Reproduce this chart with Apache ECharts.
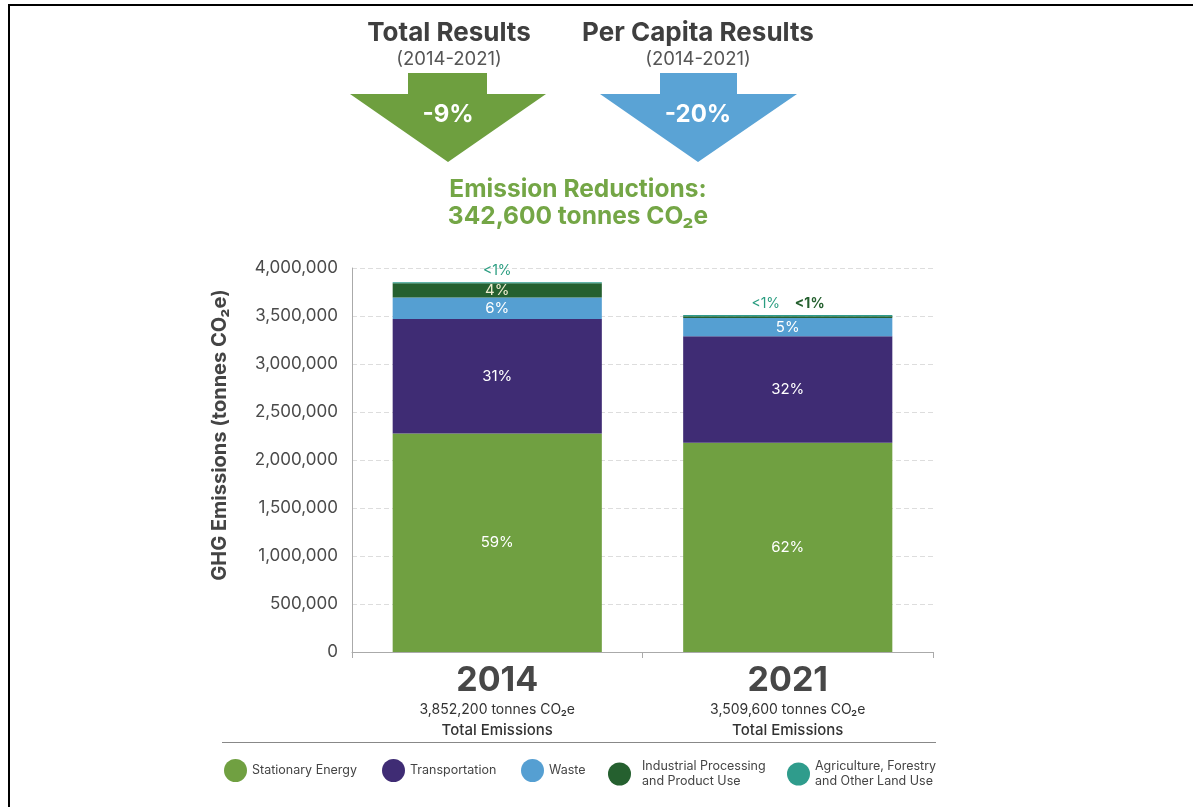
<!DOCTYPE html>
<html><head><meta charset="utf-8">
<script src="https://cdn.jsdelivr.net/npm/echarts@6/dist/echarts.min.js"></script>
<style>html,body{margin:0;padding:0;background:#fff}#c{width:1193px;height:807px}</style>
</head><body><div id="c"></div>
<script>
const categories = ['2014', '2021'];
const totalLabels = ['3,852,200', '3,509,600'];
const seriesNames = ['Stationary Energy', 'Transportation', 'Waste', 'Industrial Processing and Product Use', 'Agriculture, Forestry and Other Land Use'];
const stationaryEnergy = [2275000, 2180000];
const transportation = [1195000, 1110000];
const waste = [222000, 190000];
const industrial = [148000, 18000];
const agriculture = [12200, 11600];
const stationaryPct = ['59%', '62%'];
const transportationPct = ['31%', '32%'];
const wastePct = ['6%', '5%'];
const industrialPct = ['4%', '<1%'];
const agriculturePct = ['<1%', '<1%'];
const legendLeft = [219, 377, 516, 603, 782];
const legendTextPad = [0, 0, 0, 6, 0];

const FONT = 'Inter, "Open Sans", sans-serif';
const colors = ['#70a041', '#3f2c74', '#559fd2', '#25602f', '#2f9c8c'];
const values = [stationaryEnergy, transportation, waste, industrial, agriculture];
const pcts = [stationaryPct, transportationPct, wastePct, industrialPct, agriculturePct];

function labelFor(si, j) {
  const base = { show: true, formatter: pcts[si][j], fontFamily: FONT, fontSize: 15, color: '#ffffff' };
  if (si === 3 && j === 0) return Object.assign(base, { position: 'inside', color: '#efeccf' });
  if (si === 3 && j === 1) return Object.assign(base, { position: 'top', color: '#25602f', fontWeight: 'bold', fontSize: 14, offset: [22, 0] });
  if (si === 4 && j === 0) return Object.assign(base, { position: 'top', color: '#2a9d80', fontSize: 14, distance: 4 });
  if (si === 4 && j === 1) return Object.assign(base, { position: 'top', color: '#2a9d80', fontSize: 14, offset: [-22, 1] });
  return Object.assign(base, { position: 'inside' });
}

const series = seriesNames.map((name, si) => ({
  name, type: 'bar', stack: 'total', xAxisIndex: 1, yAxisIndex: 1,
  barWidth: '72%',
  itemStyle: { color: colors[si] },
  data: values[si].map((v, j) => ({ value: v, label: labelFor(si, j) }))
}));

const legendFmt = {
  'Industrial Processing and Product Use': 'Industrial Processing\nand Product Use',
  'Agriculture, Forestry and Other Land Use': 'Agriculture, Forestry\nand Other Land Use'
};
const legends = seriesNames.map((n, i) => ({
  data: [n], left: legendLeft[i], top: 754, icon: 'circle', itemWidth: 23, itemHeight: 26,
  itemGap: 0, selectedMode: false,
  formatter: nm => legendFmt[nm] || nm,
  textStyle: { fontFamily: FONT, fontSize: 12.5, color: '#444', lineHeight: 15, padding: [0, 0, 0, legendTextPad[i]] }
}));

function arrow(x0, x1, hx0, hx1, tipx, color) {
  return { type: 'polygon', shape: { points: [[x0, 73], [x1, 73], [x1, 94], [hx1, 94], [tipx, 162], [hx0, 94], [x0, 94]] }, style: { fill: color } };
}
function txt(x, y, text, size, weight, color) {
  return { type: 'text', x, y, style: { text, fontFamily: FONT, fontSize: size, fontWeight: weight, fill: color, align: 'center', verticalAlign: 'middle' } };
}

const chart = echarts.init(document.getElementById('c'));
chart.setOption({
  backgroundColor: '#ffffff',
  animation: false,
  legend: legends,
  grid: [
    { left: 352, right: 260, top: 268, bottom: 155 },
    { left: 352, right: 260, top: 268, bottom: 155 }
  ],
  xAxis: [
    { type: 'value', gridIndex: 0, min: 0, max: 1, interval: 1,
      axisLine: { show: true, lineStyle: { color: '#aaaaaa' } },
      axisTick: { show: true, length: 5, lineStyle: { color: '#aaaaaa' } },
      axisLabel: { show: false }, splitLine: { show: false } },
    { type: 'category', gridIndex: 1, data: categories,
      axisLine: { show: false },
      axisTick: { show: true, interval: 0, length: 6, lineStyle: { color: '#aaaaaa' } },
      axisLabel: {
        margin: 10, interval: 0,
        formatter: (v, i) => '{y|' + v + '}\n{t|' + totalLabels[i] + ' tonnes CO₂e}\n{e|Total Emissions}',
        rich: {
          y: { fontFamily: FONT, fontSize: 34, fontWeight: 'bold', color: '#474747', lineHeight: 38 },
          t: { fontFamily: FONT, fontSize: 14, color: '#333', lineHeight: 20 },
          e: { fontFamily: FONT, fontSize: 15, fontWeight: 500, color: '#333', lineHeight: 20 }
        }
      } }
  ],
  yAxis: [
    { type: 'value', gridIndex: 0, min: 0, max: 4000000, interval: 500000,
      name: 'GHG Emissions (tonnes CO₂e)', nameLocation: 'middle', nameGap: 122,
      nameTextStyle: { fontFamily: FONT, fontSize: 20, fontWeight: 'bold', color: '#444', padding: [0, 0, 0, 50] },
      axisLine: { show: true, lineStyle: { color: '#aaaaaa' } },
      axisTick: { show: false },
      axisLabel: { margin: 14, fontFamily: FONT, fontSize: 17, color: '#4a4a4a', formatter: v => v.toLocaleString('en-US') },
      splitLine: { show: true, lineStyle: { color: '#dddddd', type: [5, 3] } } },
    { type: 'value', gridIndex: 1, min: 0, max: 4000000, interval: 500000, show: false }
  ],
  series,
  graphic: [
    { type: 'rect', shape: { x: 8, y: 4, width: 1185, height: 2 }, style: { fill: '#000' } },
    { type: 'rect', shape: { x: 8, y: 4, width: 2, height: 803 }, style: { fill: '#000' } },
    txt(449, 33, 'Total Results', 26, 'bold', '#3f3f3f'),
    txt(449, 59, '(2014-2021)', 18.5, 'normal', '#555'),
    txt(698, 33, 'Per Capita Results', 26, 'bold', '#3f3f3f'),
    txt(698, 59, '(2014-2021)', 18.5, 'normal', '#555'),
    arrow(408, 487, 350, 546, 448, '#6e9f3f'),
    arrow(660, 737, 600, 797, 698, '#5aa3d5'),
    txt(448, 115, '-9%', 24, 'bold', '#ffffff'),
    txt(698, 115, '-20%', 24, 'bold', '#ffffff'),
    txt(578, 190, 'Emission Reductions:', 24.5, 'bold', '#74a646'),
    txt(578, 217, '342,600 tonnes CO₂e', 24.5, 'bold', '#74a646'),
    { type: 'rect', shape: { x: 222, y: 742, width: 714, height: 1 }, style: { fill: '#888' } }
  ]
});
</script></body></html>
